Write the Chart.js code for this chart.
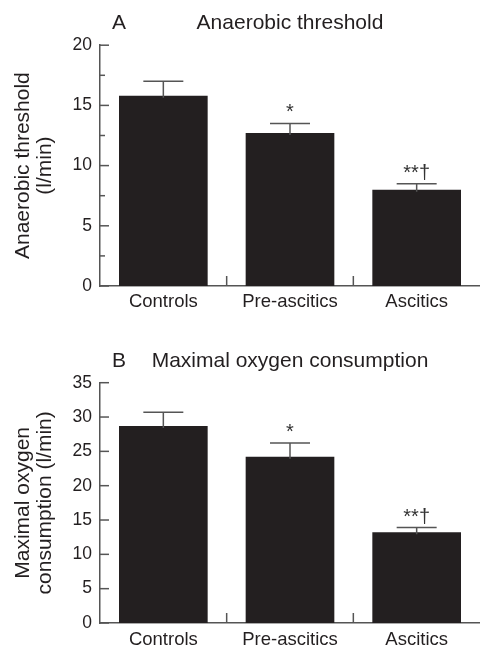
<!DOCTYPE html>
<html>
<head>
<meta charset="utf-8">
<script src="https://cdn.jsdelivr.net/npm/chart.js@4"></script>
<style>
    body { margin: 0; background: #fff; }
    #wrap { position: relative; width: 480px; height: 647px; overflow: hidden; }
    canvas { position: absolute; left: 0; }
</style>
</head>
<body>
<div id="wrap">
    <canvas id="thresholdChart" width="480" height="316" style="top:0"></canvas>
    <canvas id="vo2Chart" width="480" height="331" style="top:316px"></canvas>
</div>
<script>
// --- Data ---
const categories = ['Controls', 'Pre-ascitics', 'Ascitics'];
const significance = ['', '*', '**\u2020'];

const thresholdMeans = [15.8, 12.7, 8.0];
const thresholdErrTops = [17.0, 13.5, 8.5];
const thresholdMax = 20;

const vo2Means = [28.7, 24.2, 13.2];
const vo2ErrTops = [30.7, 26.2, 13.9];
const vo2Max = 35;

const FONT = '"Liberation Sans", Arial, Helvetica, sans-serif';
const INK = '#231f20';
const AXIS = '#555555';
const TITLE_SIZE = 21;

// Draws inward ticks, error bars, significance marks and the panel letter
const panelPlugin = {
    id: 'panelExtras',
    afterDatasetsDraw(chart, args, opts) {
        const ctx = chart.ctx;
        const x = chart.scales.x;
        const y = chart.scales.y;
        const area = chart.chartArea;
        ctx.save();
        ctx.strokeStyle = AXIS;
        ctx.lineWidth = 1.5;

        // y ticks pointing into the plot
        y.ticks.forEach(t => {
            const py = y.getPixelForValue(t.value);
            const len = t.value % 5 === 0 ? 9 : 5;
            ctx.beginPath();
            ctx.moveTo(area.left, py);
            ctx.lineTo(area.left + len, py);
            ctx.stroke();
        });

        // x ticks between categories
        for (let i = 1; i < categories.length; i++) {
            const px = (x.getPixelForValue(i - 1) + x.getPixelForValue(i)) / 2;
            ctx.beginPath();
            ctx.moveTo(px, area.bottom);
            ctx.lineTo(px, area.bottom - 10);
            ctx.stroke();
        }

        // error bars
        const means = chart.data.datasets[0].data;
        opts.errTops.forEach((top, i) => {
            const px = x.getPixelForValue(i);
            const pTop = y.getPixelForValue(top);
            const pMean = y.getPixelForValue(means[i]);
            ctx.beginPath();
            ctx.moveTo(px, pMean + 2);
            ctx.lineTo(px, pTop);
            ctx.moveTo(px - 20, pTop);
            ctx.lineTo(px + 20, pTop);
            ctx.stroke();

            if (significance[i]) {
                ctx.fillStyle = '#333';
                ctx.font = '20px ' + FONT;
                ctx.textAlign = 'center';
                ctx.textBaseline = 'alphabetic';
                ctx.fillText(significance[i], px, pTop - 5);
            }
        });

        // panel letter next to title
        const tb = chart.titleBlock;
        const ty = tb.top + tb.options.padding.top + TITLE_SIZE * 1.2 / 2;
        ctx.fillStyle = INK;
        ctx.font = TITLE_SIZE + 'px ' + FONT;
        ctx.textAlign = 'center';
        ctx.textBaseline = 'middle';
        ctx.fillText(opts.letter, 119, ty);
        ctx.restore();
    }
};

function makeChart(canvasId, means, errTops, yMax, title, yTitle, letter, titlePad, xHeight, labelPad) {
    const ctx = document.getElementById(canvasId).getContext('2d');
    return new Chart(ctx, {
        type: 'bar',
        data: {
            labels: categories,
            datasets: [{
                data: means,
                backgroundColor: INK,
                borderWidth: 0,
                barPercentage: 0.7,
                categoryPercentage: 1.0
            }]
        },
        options: {
            responsive: false,
            animation: false,
            layout: { padding: 0 },
            plugins: {
                legend: { display: false },
                tooltip: { enabled: false },
                title: {
                    display: true,
                    text: title,
                    fullSize: false,
                    color: INK,
                    font: { family: FONT, size: TITLE_SIZE, weight: 'normal', lineHeight: 1.2 },
                    padding: titlePad
                },
                panelExtras: { errTops: errTops, letter: letter }
            },
            scales: {
                x: {
                    grid: { display: false, drawTicks: false },
                    border: { display: true, color: AXIS, width: 1.5 },
                    ticks: { color: INK, padding: labelPad, font: { family: FONT, size: 18.5 } },
                    afterFit(scale) { scale.height = xHeight; }
                },
                y: {
                    min: 0,
                    max: yMax,
                    grid: { display: false, drawTicks: false },
                    border: { display: true, color: AXIS, width: 1.5 },
                    ticks: {
                        stepSize: 2.5,
                        color: INK,
                        padding: 8,
                        font: { family: FONT, size: 17.5 },
                        callback: v => (v % 5 === 0 ? v : '')
                    },
                    title: {
                        display: true,
                        text: yTitle,
                        color: INK,
                        font: { family: FONT, size: TITLE_SIZE, lineHeight: 1.05 },
                        padding: { top: 12, bottom: 0 }
                    },
                    afterFit(scale) { scale.width = 100; }
                }
            }
        },
        plugins: [panelPlugin]
    });
}

makeChart('thresholdChart', thresholdMeans, thresholdErrTops, thresholdMax,
    'Anaerobic threshold', ['Anaerobic threshold', '(l/min)'], 'A',
    { top: 11, bottom: 9 }, 30, 5);

makeChart('vo2Chart', vo2Means, vo2ErrTops, vo2Max,
    'Maximal oxygen consumption', ['Maximal oxygen', 'consumption (l/min)'], 'B',
    { top: 33, bottom: 8.5 }, 24, 6);
</script>
</body>
</html>
